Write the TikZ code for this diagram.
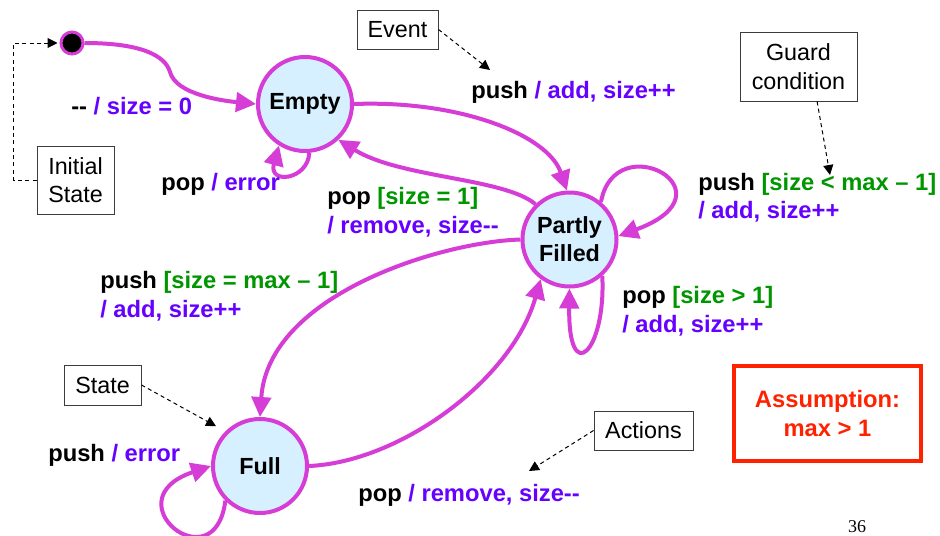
\documentclass[tikz,border=0pt]{standalone}
\usepackage{fontspec}
\setmainfont{Liberation Sans}[Ligatures=TeXOff]
\newfontfamily\pagenumfont{Liberation Serif}
\usetikzlibrary{arrows.meta}

\definecolor{stroke}{RGB}{214,60,214}
\definecolor{statefill}{RGB}{214,240,255}
\definecolor{actcol}{RGB}{102,0,255}
\definecolor{guardcol}{RGB}{0,150,0}
\definecolor{alertred}{RGB}{255,34,0}
\definecolor{boxline}{RGB}{60,60,60}

\newcommand{\actn}[1]{\textcolor{actcol}{#1}}
\newcommand{\grd}[1]{\textcolor{guardcol}{#1}}

\begin{document}
\begin{tikzpicture}[x=0.75pt,y=-0.75pt,
  state/.style={circle,draw=stroke,line width=3pt,fill=statefill,
    minimum size=70.5pt,inner sep=0pt,align=center,
    font=\fontsize{17.5pt}{21pt}\selectfont\bfseries},
  trans/.style={draw=stroke,line width=3pt,
    -{Triangle[length=15pt,width=14.5pt]}},
  lbl/.style={anchor=base west,inner sep=0pt,
    font=\fontsize{17.8pt}{21pt}\selectfont\bfseries},
  note/.style={draw=boxline,line width=0.75pt,fill=white,inner sep=0pt,
    align=center,font=\fontsize{17.5pt}{21.5pt}\selectfont},
  pointer/.style={draw=black,line width=0.75pt,dash pattern=on 3pt off 2.5pt,
    -{Triangle[length=7.5pt,width=7.5pt]}}
]
\fill[white] (0,0) rectangle (940,536);
\useasboundingbox (0,0) rectangle (940,536);

% states
\node[circle,draw=stroke,line width=2.25pt,fill=black,minimum size=16.5pt,inner sep=0pt] (init) at (72,43) {};
\node[state] (empty)  at (305,104) {Empty};
\node[state] (partly) at (569.5,239.5) {Partly\\Filled};
\node[state] (full)   at (260,466) {Full};

% transitions
\draw[trans] (init.east) .. controls (140,43) and (165,55) .. (170,72)
   .. controls (176,95) and (225,101) .. (empty.west);
\draw[trans] (empty.-85) .. controls (308,180) and (268,185) .. (empty.-122);
\draw[trans] (empty.east) .. controls (460,100) and (548,135) .. (partly.93);
\draw[trans] (partly.134) .. controls (505,178) and (400,178) .. (empty.-47);
\draw[trans] (partly.50) .. controls (615,125) and (738,192) .. (partly.4);
\draw[trans] (partly.-48) .. controls (606,352) and (568,388) .. (partly.-90);
\draw[trans] (partly.west) .. controls (440,242) and (268,295) .. (full.north);
\draw[trans] (full.east) .. controls (400,462) and (512,380) .. (partly.-126);
\draw[trans] (full.-135) .. controls (215,585) and (110,500) .. (full.west);

% transition labels
\node[lbl] (l1) at (71,114) {-{}- \actn{/ size = 0}};
\node[lbl] (l2) at (161,190) {pop \actn{/ error}};
\node[lbl] (l3) at (471,98) {push \actn{/ add, size++}};
\node[lbl] (l4a) at (327,204) {pop \grd{[size = 1]}};
\node[lbl] (l4b) at (327,233) {\actn{/ remove, size-{}-}};
\node[lbl] (l5a) at (698,190) {push \grd{[size < max – 1]}};
\node[lbl] (l5b) at (698,218) {\actn{/ add, size++}};
\node[lbl] (l6a) at (622,303) {pop \grd{[size > 1]}};
\node[lbl] (l6b) at (622,332) {\actn{/ add, size++}};
\node[lbl] (l7a) at (100,288) {push \grd{[size = max – 1]}};
\node[lbl] (l7b) at (100,317) {\actn{/ add, size++}};
\node[lbl] (l8) at (48,461) {push \actn{/ error}};
\node[lbl] (l9) at (358,501) {pop \actn{/ remove, size-{}-}};

% annotations
\node[note,minimum width=60.75pt,minimum height=29.25pt] (ev) at (397.5,29.5) {Event};
\node[note,minimum width=87.75pt,minimum height=51.75pt] (gd) at (798.5,66.5) {Guard\\condition};
\node[note,minimum width=57.75pt,minimum height=51pt] (ib) at (75.5,180) {Initial\\State};
\node[note,minimum width=57.75pt,minimum height=30pt] (st) at (102.5,385) {State};
\node[note,minimum width=74.25pt,minimum height=29.25pt] (ac) at (643.5,430.5) {Actions};

\coordinate (evTip) at (490,70);
\coordinate (gdTip) at (830,175);
\coordinate (acTip) at (529,471);

\draw[pointer] (ev.east) -- (evTip);
\draw[pointer] (gd.-62) -- (gdTip);
\draw[pointer] (ac.west) -- (acTip);
\draw[pointer,shorten >=8pt] (st.east) -- (full.135);
\draw[pointer,shorten >=1.5pt] (ib.west) -- ++(-23,0) |- (init.west);

% assumption box
\node[draw=alertred,line width=3pt,minimum width=140.25pt,minimum height=71.25pt,
  inner sep=0pt,align=center,text=alertred,
  font=\fontsize{17.8pt}{22pt}\selectfont\bfseries] (assume) at (827.5,413.5) {Assumption:\\max > 1};

% page number
\node[inner sep=0pt,font=\pagenumfont\fontsize{13.5pt}{16pt}\selectfont] (pg) at (857,527) {36};
\end{tikzpicture}
\end{document}
